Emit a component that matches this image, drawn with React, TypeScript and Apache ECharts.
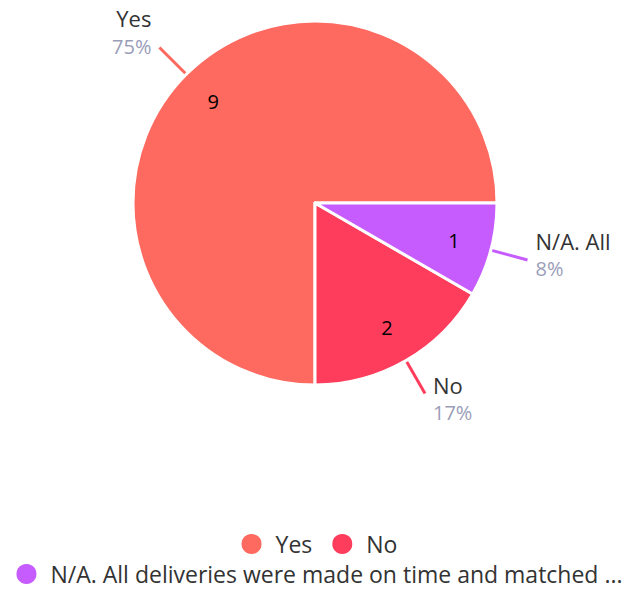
import React, { useEffect, useRef } from "react";
import * as echarts from "echarts";

const categories = ["Yes", "No", "N/A. All deliveries were made on time and matched the order"];
const shortNames = ["Yes", "No", "N/A. All"];
const values = [9, 2, 1];
const percents = ["75%", "17%", "8%"];
const colors = ["#fe6960", "#fe3d5d", "#c65cfd"];

function truncate(name: string, n: number) {
  return name.length > n ? name.slice(0, n) + " ..." : name;
}

export default function App() {
  const ref = useRef<HTMLDivElement>(null);
  useEffect(() => {
    document.body.style.margin = "0";
    const chart = echarts.init(ref.current!, null, { renderer: "svg" });
    const data = categories.map((c, i) => ({
      name: c,
      value: values[i],
      itemStyle: { color: colors[i] },
    }));
    const font = "'Open Sans', 'Noto Sans', sans-serif";
    const labelDy = [-16, 4, -6];
    chart.setOption({
      animation: false,
      textStyle: { fontFamily: font },
      legend: [
        {
          data: categories.slice(0, 2),
          top: 530,
          left: "center",
          icon: "circle",
          itemWidth: 22,
          itemHeight: 22,
          itemGap: 18,
          padding: 2,
          textStyle: { fontSize: 23, color: "#333", fontFamily: font, padding: [0, 0, 0, 8] },
        },
        {
          data: categories.slice(2),
          top: 560,
          left: "center",
          icon: "circle",
          itemWidth: 22,
          itemHeight: 22,
          padding: 2,
          formatter: (n: string) => truncate(n, 49),
          textStyle: { fontSize: 23, color: "#333", fontFamily: font, padding: [0, 0, 0, 8] },
        },
      ],
      series: [
        {
          type: "pie",
          center: [315, 203],
          radius: [0, 182],
          startAngle: 0,
          clockwise: false,
          data,
          itemStyle: { borderColor: "#fff", borderWidth: 3 },
          label: {
            show: true,
            position: "outside",
            formatter: (p: any) => `{n|${shortNames[p.dataIndex]}}\n{p|${percents[p.dataIndex]}}`,
            rich: {
              n: { fontSize: 22, color: "#333", fontFamily: font, lineHeight: 30 },
              p: { fontSize: 20, color: "#9a9db8", fontFamily: font, lineHeight: 26 },
            },
            distanceToLabelLine: 8,
          },
          labelLayout: (p: any) => ({ dy: labelDy[p.dataIndex] }),
          labelLine: { show: true, length: 38, length2: 0, lineStyle: { width: 3 } },
          emphasis: { disabled: true },
        },
        {
          type: "pie",
          center: [315, 203],
          radius: [100, 182],
          startAngle: 0,
          clockwise: false,
          silent: true,
          data: categories.map((c, i) => ({ name: c, value: values[i] })),
          itemStyle: { color: "rgba(0,0,0,0)" },
          label: {
            show: true,
            position: "inside",
            formatter: (p: any) => String(p.value),
            fontSize: 20,
            color: "#000",
            fontFamily: font,
          },
          labelLine: { show: false },
          legendHoverLink: false,
          emphasis: { disabled: true },
        },
      ],
    });
    return () => chart.dispose();
  }, []);
  return <div ref={ref} style={{ width: 637, height: 592 }} />;
}
